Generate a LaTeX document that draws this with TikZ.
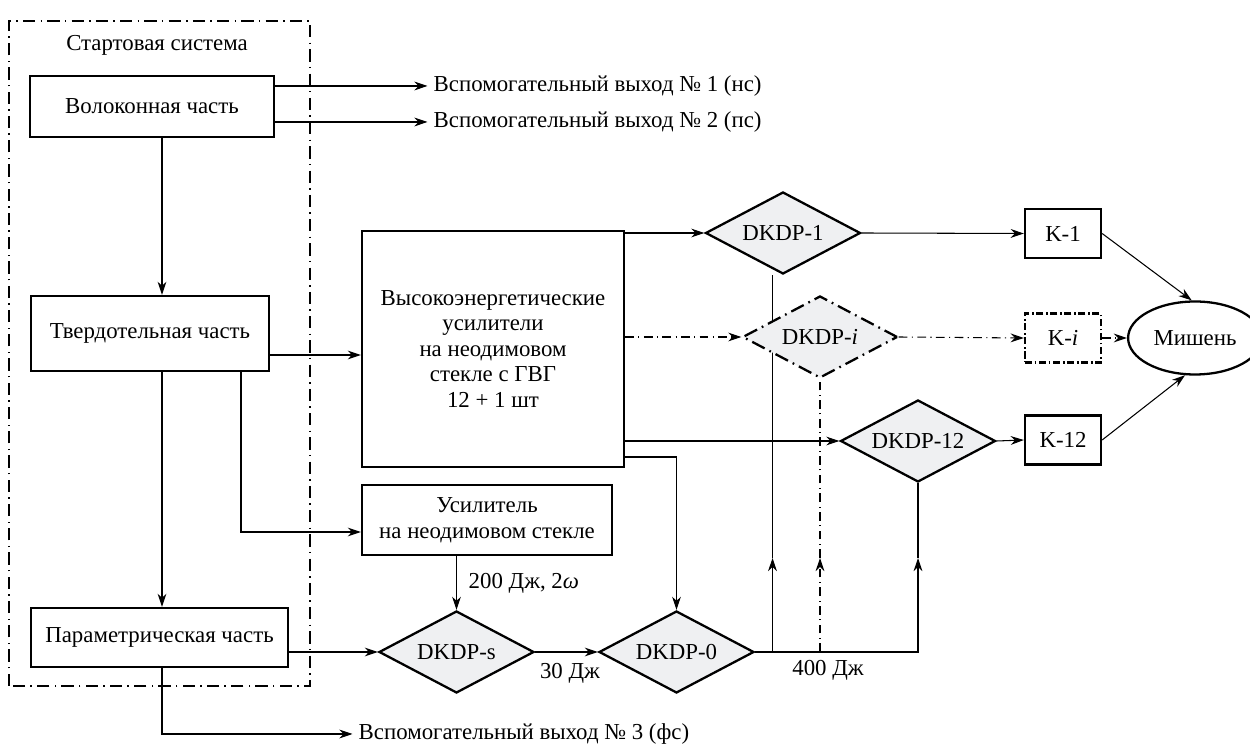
\documentclass[tikz,border=0pt]{standalone}
\usepackage{fontspec}
\setmainfont{Liberation Serif}
\usetikzlibrary{shapes.geometric,arrows.meta,backgrounds,positioning}
\definecolor{crystalbg}{HTML}{eff0f2}

\tikzset{
  block/.style={draw, line width=1.3pt, inner sep=2pt, align=center},
  crystal/.style={diamond, draw, line width=1.3pt, fill=crystalbg, shape aspect=1.9,
    minimum width=3.1cm, minimum height=1.64cm, inner sep=1pt},
  flow/.style={line width=0.6pt, -{Stealth[length=7.5pt,width=5pt]}},
  wire/.style={line width=0.6pt},
  optional/.style={dash pattern=on 5pt off 2.5pt on 0.6pt off 2.5pt},
  frameline/.style={line width=1.4pt, dash pattern=on 7pt off 3pt on 0.8pt off 3pt},
}

\begin{document}
\begin{tikzpicture}[font=\fontsize{13}{14.5}\selectfont]
  \useasboundingbox (0,0) rectangle (25,14.9);

  % Start system
  \draw[frameline] (0.18,1.18) rectangle (6.2,14.48);
  \node (startlbl) at (3.14,14.0) {Стартовая система};
  \node[block, minimum width=4.88cm, minimum height=1.22cm] (fiber) at (3.04,12.77) {Волоконная часть};
  \node[block, minimum width=4.76cm, minimum height=1.5cm] (solid) at (3.0,8.23) {Твердотельная часть};
  \node[block, minimum width=5.14cm, minimum height=1.18cm] (param) at (3.19,2.15) {Параметрическая часть};

  % Amplifiers
  \node[block, minimum width=5.24cm, minimum height=4.72cm] (heamp) at (9.86,7.92)
    {Высокоэнергетические\\усилители\\на неодимовом\\стекле с ГВГ\\12 + 1 шт};
  \node[block, minimum width=5.0cm, minimum height=1.4cm] (ndamp) at (9.74,4.5)
    {Усилитель\\на неодимовом стекле};

  % Crystals
  \node[crystal] (dkdps) at (9.13,1.86) {DKDP-s};
  \node[crystal] (dkdp0) at (13.53,1.86) {DKDP-0};
  \node[crystal] (dkdp1) at (15.66,10.24) {DKDP-1};
  \node[crystal, dash pattern=on 8pt off 3pt on 1pt off 3pt] (dkdpi) at (16.4,8.16) {DKDP-\textit{i}};
  \node[crystal] (dkdp12) at (18.36,6.08) {DKDP-12};

  % Channels and target
  \node[block, minimum width=1.52cm, minimum height=0.98cm] (k1) at (21.26,10.23) {K-1};
  \node[block, minimum width=1.52cm, minimum height=0.98cm,
    dash pattern=on 4pt off 1.5pt on 1pt off 1.5pt] (ki) at (21.26,8.14) {K-\textit{i}};
  \node[block, minimum width=1.52cm, minimum height=0.98cm] (k12) at (21.26,6.1) {K-12};
  \node[ellipse, draw, line width=1.3pt, minimum width=2.16cm, minimum height=1.46cm] (target) at (23.9,8.14) {Мишень};

  % Auxiliary outputs
  \node[anchor=west] (aux1) at (8.55,13.18) {Вспомогательный выход № 1 (нс)};
  \node[anchor=west] (aux2) at (8.55,12.46) {Вспомогательный выход № 2 (пс)};
  \node[anchor=west] (aux3) at (7.05,0.22) {Вспомогательный выход № 3 (фс)};
  \draw[flow] (fiber.east |- aux1.west) -- (aux1.west);
  \draw[flow] (fiber.east |- aux2.west) -- (aux2.west);

  % Start system links
  \coordinate (spine) at (3.24,0);
  \draw[flow] (fiber.south -| spine) -- (solid.north -| spine);
  \draw[flow] (solid.south -| spine) -- (param.north -| spine);
  \draw[flow] (param.south -| spine) |- (aux3.west);
  \coordinate (tohe) at (0,7.8);
  \draw[flow] (solid.east |- tohe) -- (heamp.west |- tohe);
  \coordinate (branch) at (4.82,4.26);
  \draw[flow] (solid.south -| branch) |- (ndamp.west |- branch);
  \draw[flow] (param.east |- dkdps.west) -- (dkdps.west);

  % Pump line
  \draw[flow] (ndamp.south -| dkdps.north) -- (dkdps.north);
  \node[anchor=west] (lbl200) at (9.25,3.24) {200 Дж, 2\textit{ω}};
  \draw[flow] (dkdps.east) -- (dkdp0.west);
  \node (lbl30) at (11.4,1.44) {30 Дж};
  \coordinate (exit0) at (0,5.76);
  \draw[flow] (heamp.east |- exit0) -| (dkdp0.north);

  % 400 J bus
  \coordinate (up1) at (15.45,3.74);
  \coordinate (upi) at (16.4,3.74);
  \coordinate (up12) at (18.36,3.74);
  \draw[flow] (dkdp0.east) -| (up12);
  \draw[wire] (up12) -- (dkdp12.south);
  \draw[flow] (dkdp0.east -| up1) -- (up1);
  \begin{pgfonlayer}{background}
    \draw[wire] (up1) -- (dkdp1.south -| up1);
  \end{pgfonlayer}
  \draw[flow, optional] (dkdp0.east -| upi) -- (upi);
  \draw[wire, optional] (upi) -- (dkdpi.south);
  \node (lbl400) at (16.56,1.5) {400 Дж};

  % Beams
  \draw[flow] (heamp.east |- dkdp1.west) -- (dkdp1.west);
  \draw[flow, optional] (heamp.east |- dkdpi.west) -- (dkdpi.west);
  \draw[flow] (heamp.east |- dkdp12.west) -- (dkdp12.west);
  \draw[flow] (dkdp1.east) -- (k1.west);
  \draw[flow, optional] (dkdpi.east) -- (ki.west);
  \draw[flow] (dkdp12.east) -- (k12.west);
  \draw[flow] (k1.east) -- (target.95);
  \draw[flow, optional] (ki.east) -- (target.west);
  \draw[flow] (k12.east) -- (target.-105);
\end{tikzpicture}
\end{document}
